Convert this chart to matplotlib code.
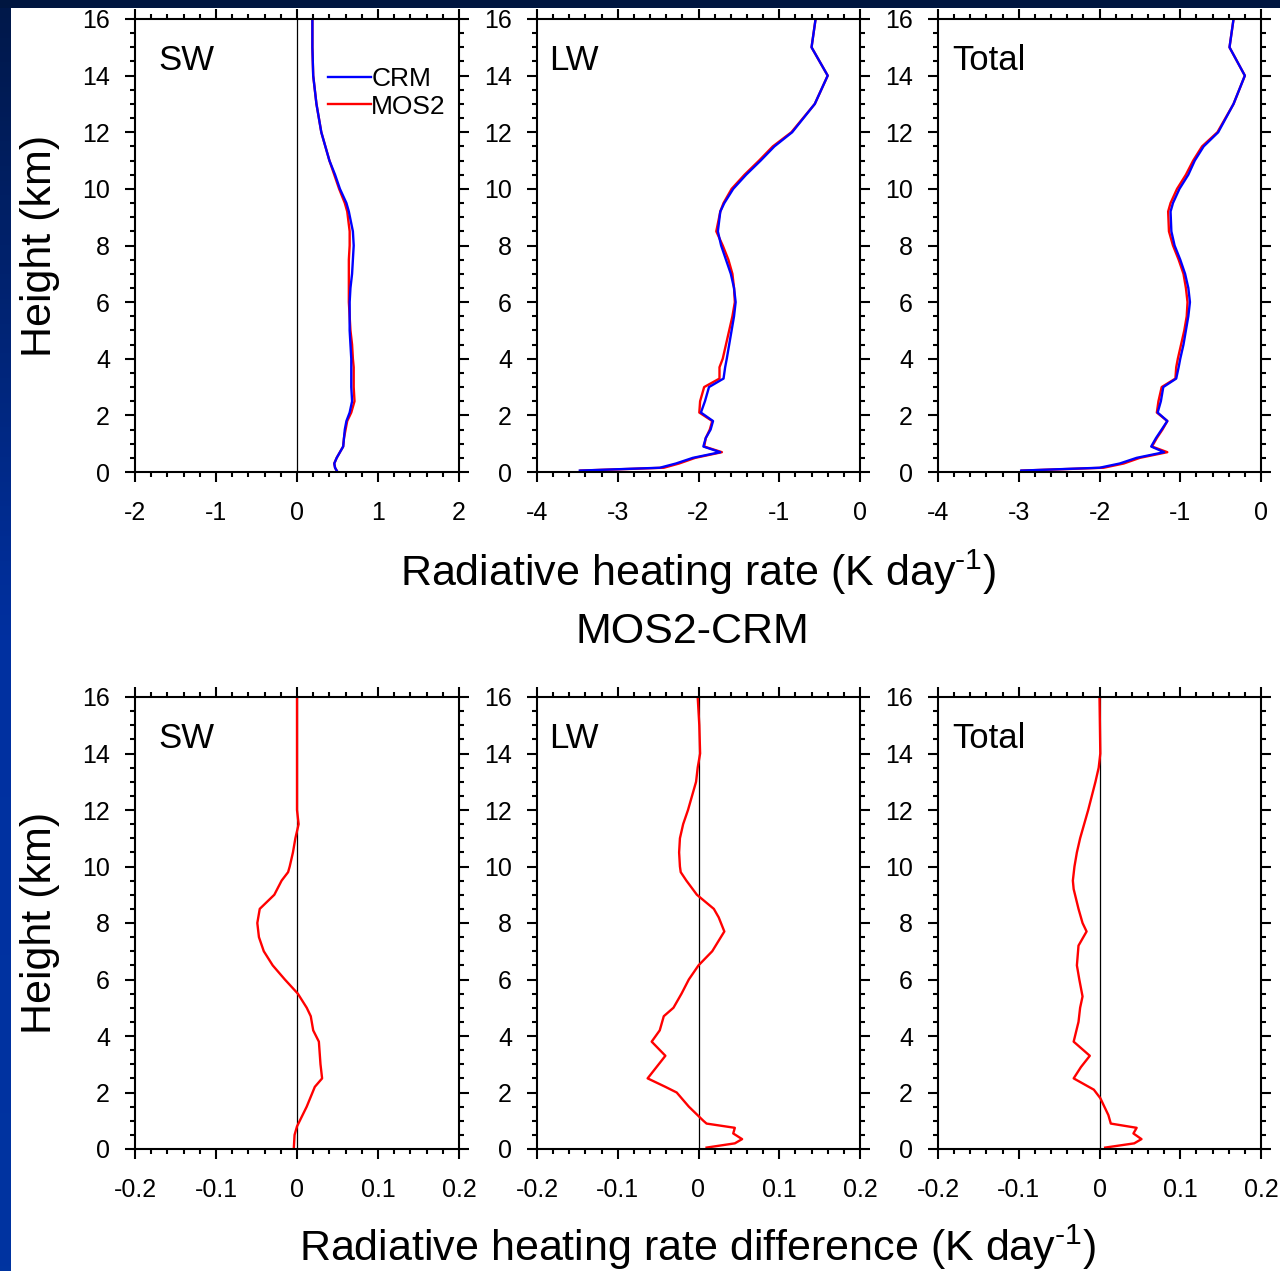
import numpy as np
import matplotlib.pyplot as plt
from matplotlib.colors import LinearSegmentedColormap
from matplotlib.patches import Rectangle
from matplotlib.ticker import MultipleLocator

plt.rcParams['font.family'] = ['Liberation Sans', 'DejaVu Sans']
plt.rcParams['mathtext.fontset'] = 'custom'
plt.rcParams['mathtext.rm'] = 'Liberation Sans'
plt.rcParams['mathtext.it'] = 'Liberation Sans'

# Heights (km) for the heating-rate profiles
z_hr = [16, 15, 14, 13, 12, 11.5, 11, 10.5, 10, 9.5, 9.2, 8.5, 8, 7.5, 7, 6.5, 6,
        5.5, 5, 4.5, 4, 3.7, 3.3, 3.0, 2.5, 2.1, 1.8, 1.5, 1.2, 0.9, 0.7, 0.5,
        0.3, 0.15, 0.05]

# SW heating rate (K/day)
sw_crm = [0.19, 0.19, 0.20, 0.24, 0.30, 0.35, 0.40, 0.47, 0.53, 0.61, 0.64, 0.69,
          0.70, 0.69, 0.68, 0.66, 0.65, 0.65, 0.65, 0.66, 0.67, 0.67, 0.67, 0.67,
          0.68, 0.65, 0.61, 0.59, 0.58, 0.57, 0.53, 0.49, 0.46, 0.47, 0.49]
sw_mos = [0.19, 0.19, 0.20, 0.24, 0.30, 0.35, 0.40, 0.46, 0.52, 0.59, 0.62, 0.65,
          0.65, 0.64, 0.64, 0.64, 0.64, 0.65, 0.66, 0.68, 0.69, 0.70, 0.70, 0.70,
          0.71, 0.67, 0.62, 0.60, 0.58, 0.57, 0.53, 0.49, 0.46, 0.47, 0.49]

# LW heating rate (K/day)
lw_crm = [-0.55, -0.60, -0.40, -0.56, -0.84, -1.06, -1.23, -1.41, -1.57, -1.68,
          -1.73, -1.76, -1.72, -1.66, -1.60, -1.56, -1.54, -1.56, -1.59, -1.62,
          -1.65, -1.67, -1.69, -1.87, -1.92, -1.97, -1.82, -1.85, -1.91, -1.94,
          -1.73, -2.07, -2.28, -2.48, -3.47]
lw_mos = [-0.55, -0.60, -0.40, -0.56, -0.85, -1.08, -1.25, -1.43, -1.59, -1.69,
          -1.73, -1.78, -1.70, -1.63, -1.58, -1.56, -1.55, -1.58, -1.62, -1.66,
          -1.70, -1.74, -1.74, -1.93, -1.98, -1.99, -1.83, -1.86, -1.91, -1.93,
          -1.71, -2.04, -2.24, -2.43, -3.46]

# Total heating rate (K/day)
tot_crm = [-0.34, -0.39, -0.20, -0.34, -0.53, -0.71, -0.82, -0.90, -1.01, -1.09,
           -1.12, -1.11, -1.07, -1.00, -0.94, -0.90, -0.88, -0.90, -0.93, -0.96,
           -1.00, -1.02, -1.05, -1.21, -1.24, -1.28, -1.16, -1.23, -1.30, -1.36,
           -1.20, -1.54, -1.75, -2.00, -2.97]
tot_mos = [-0.34, -0.39, -0.20, -0.34, -0.54, -0.73, -0.84, -0.93, -1.04, -1.12,
           -1.15, -1.14, -1.09, -1.02, -0.96, -0.93, -0.91, -0.92, -0.95, -0.99,
           -1.03, -1.05, -1.06, -1.23, -1.27, -1.29, -1.16, -1.22, -1.29, -1.35,
           -1.16, -1.50, -1.70, -1.95, -2.96]

# Differences MOS2-CRM (K/day)
z_sw = [16, 12, 11.5, 11, 10.5, 10, 9.8, 9.5, 9, 8.5, 8, 7.5, 7, 6.5, 6, 5.5, 5,
        4.7, 4.2, 3.8, 3.0, 2.5, 2.2, 1.5, 0.8, 0.5, 0]
sw_diff = [0.000, 0.000, 0.002, -0.002, -0.005, -0.009, -0.011, -0.019, -0.028,
           -0.046, -0.049, -0.047, -0.041, -0.030, -0.015, 0.001, 0.012, 0.017,
           0.020, 0.027, 0.029, 0.031, 0.022, 0.012, 0.000, -0.003, -0.004]

z_lw = [16, 15, 14, 13.5, 13, 12.5, 12, 11.5, 11, 10.5, 10, 9.8, 9.5, 9, 8.5, 8.2,
        7.7, 7, 6.5, 6, 5.5, 5, 4.7, 4.2, 3.8, 3.3, 2.5, 2.2, 2.0, 1.5, 1.0, 0.9,
        0.75, 0.55, 0.35, 0.2, 0.05]
lw_diff = [-0.001, 0.001, 0.002, -0.001, -0.003, -0.008, -0.013, -0.019, -0.023,
           -0.024, -0.023, -0.022, -0.015, -0.002, 0.019, 0.025, 0.032, 0.017,
           0.000, -0.012, -0.021, -0.031, -0.043, -0.048, -0.058, -0.041, -0.063,
           -0.041, -0.027, -0.012, 0.006, 0.010, 0.045, 0.043, 0.054, 0.045, 0.010]

z_tot = [16, 14, 13.5, 13, 12, 11, 10.5, 10, 9.5, 9.2, 8.5, 8.0, 7.7, 7.2, 6.5, 6,
         5.4, 5, 4.5, 3.8, 3.3, 2.9, 2.5, 2.1, 1.8, 1.2, 0.9, 0.75, 0.55, 0.35,
         0.2, 0.05]
tot_diff = [0.000, 0.001, -0.001, -0.005, -0.014, -0.024, -0.028, -0.031, -0.033,
            -0.032, -0.026, -0.021, -0.016, -0.026, -0.028, -0.025, -0.021, -0.024,
            -0.026, -0.032, -0.012, -0.023, -0.032, -0.007, 0.001, 0.011, 0.014,
            0.046, 0.042, 0.052, 0.043, 0.007]

names = ['SW', 'LW', 'Total']
name_x = [0.071, 0.037, 0.043]

W, H = 1280, 1271
fig = plt.figure(figsize=(W / 100, H / 100), dpi=100)
fig.patch.set_facecolor('white')

lefts = [135, 537, 938]
widths = [324, 323, 323]


def box(px_left, px_top, px_w, px_h):
    return [px_left / W, 1 - (px_top + px_h) / H, px_w / W, px_h / H]


def style(ax, xlim, xmajor, xminor):
    ax.set_xlim(*xlim)
    ax.set_ylim(0, 16)
    ax.xaxis.set_major_locator(MultipleLocator(xmajor))
    ax.xaxis.set_minor_locator(MultipleLocator(xminor))
    ax.yaxis.set_major_locator(MultipleLocator(2))
    ax.yaxis.set_minor_locator(MultipleLocator(0.5))
    ax.tick_params(which='both', direction='out', top=True, right=True,
                   width=1.5, labelsize=18)
    ax.tick_params(which='major', length=7)
    ax.tick_params(which='minor', length=3.5)
    ax.tick_params(axis='x', pad=14)
    ax.tick_params(axis='y', pad=11)
    for s in ax.spines.values():
        s.set_linewidth(1.5)


def fmt(v, pos):
    s = '%g' % v
    return '0' if s in ('-0', '0') else s


top_data = [(sw_crm, sw_mos, (-2, 2)), (lw_crm, lw_mos, (-4, 0)),
            (tot_crm, tot_mos, (-4, 0))]
for i, (crm, mos, xlim) in enumerate(top_data):
    ax = fig.add_axes(box(lefts[i], 19, widths[i], 453))
    if i == 0:
        ax.axvline(0, color='black', lw=0.9)
    ax.plot(mos, z_hr, color='red', lw=1.7, label='MOS2')
    ax.plot(crm, z_hr, color='blue', lw=1.7, label='CRM')
    style(ax, xlim, 1, 0.2)
    ax.xaxis.set_major_formatter(plt.FuncFormatter(fmt))
    ax.text(name_x[i], 0.909, names[i], transform=ax.transAxes, fontsize=25,
            va='center', ha='left')
    if i == 0:
        h, l = ax.get_legend_handles_labels()
        ax.legend(h[::-1], l[::-1], loc='upper left', bbox_to_anchor=(0.595, 0.893),
                  frameon=False, fontsize=19, handlelength=1.65, handletextpad=0.0,
                  labelspacing=0.12, borderpad=0, borderaxespad=0)
        ax.set_ylabel('Height (km)', fontsize=31, labelpad=16)

bot_data = [(sw_diff, z_sw), (lw_diff, z_lw), (tot_diff, z_tot)]
for i, (d, zz) in enumerate(bot_data):
    ax = fig.add_axes(box(lefts[i], 697, widths[i], 452))
    ax.axvline(0, color='black', lw=0.9)
    ax.plot(d, zz, color='red', lw=1.7)
    style(ax, (-0.2, 0.2), 0.1, 0.02)
    ax.xaxis.set_major_formatter(plt.FuncFormatter(fmt))
    ax.text(name_x[i], 0.909, names[i], transform=ax.transAxes, fontsize=25,
            va='center', ha='left')
    if i == 0:
        ax.set_ylabel('Height (km)', fontsize=31, labelpad=16)

fig.text(698 / W, 1 - 572 / H, r'Radiative heating rate (K day$^{\text{-}1}$)',
         fontsize=31, ha='center', va='center')
fig.text(692 / W, 1 - 632 / H, 'MOS2-CRM', fontsize=31, ha='center', va='center')
fig.text(698 / W, 1 - 1247 / H, r'Radiative heating rate difference (K day$^{\text{-}1}$)',
         fontsize=31, ha='center', va='center')

# slide background strips
fig.add_artist(Rectangle((0, 1 - 8 / H), 1, 8 / H, transform=fig.transFigure,
                         facecolor='#001640', edgecolor='none', zorder=5))
strip = fig.add_axes([0, 0, 11 / W, 1 - 8 / H], zorder=5)
cmap = LinearSegmentedColormap.from_list('slide', ['#0034a0', '#0030a0', '#00184a'])
strip.imshow(np.linspace(0, 1, 256).reshape(-1, 1), cmap=cmap, aspect='auto',
             origin='lower', extent=[0, 1, 0, 1])
strip.set_axis_off()

fig.savefig('out.png', dpi=100)
